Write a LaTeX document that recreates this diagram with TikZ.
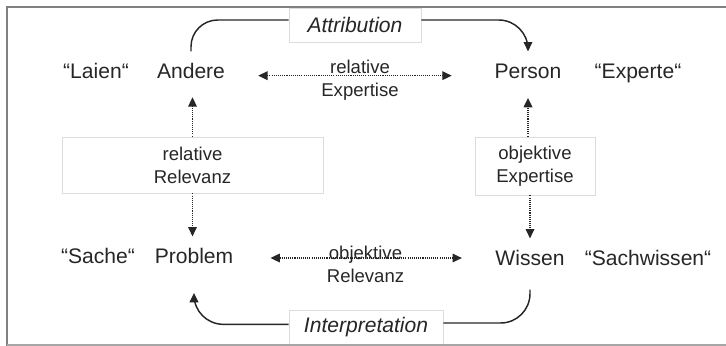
\documentclass[tikz,border=0pt]{standalone}
\usepackage{fontspec}
\setmainfont{Liberation Sans}
\usetikzlibrary{arrows.meta}

\definecolor{framegray}{HTML}{808080}
\definecolor{linegray}{HTML}{A6A6A6}
\definecolor{boxgray}{HTML}{DCDCDC}
\definecolor{ink}{HTML}{262626}

\tikzset{
	word/.style = {font = \fontsize{15.8}{19}\selectfont, text = ink, inner sep = 0pt,
		text height = 11.5pt, text depth = 3.5pt, minimum height = 32pt},
	lab/.style = {font = \fontsize{13.9}{17.2}\selectfont, text = ink, align = center, inner sep = 0pt},
	labbox/.style = {lab, draw = boxgray, fill = white, line width = 0.6pt},
	titlebox/.style = {draw = boxgray, fill = white, line width = 0.6pt, text = ink,
		font = \fontsize{15.8}{19}\selectfont\itshape, minimum width = 99pt, minimum height = 25.5pt},
	dots/.style = {ink, line width = 0.9pt, dash pattern = on 0.8pt off 0.8pt},
	flow/.style = {ink, line width = 1.1pt}
}

\begin{document}
\begin{tikzpicture}[x = 0.75pt, y = -0.75pt, >={Triangle[length = 7pt, width = 6.5pt]}]
	\useasboundingbox (0,0) rectangle (726,346);
	
	\node[word] (laien) at (96, 73) {“Laien“};
	\node[word] (andere) at (191, 73) {Andere};
	\node[word] (person) at (528, 73) {Person};
	\node[word] (experte) at (638, 73) {“Experte“};
	
	\node[word] (sache) at (98, 258) {“Sache“};
	\node[word] (problem) at (194, 258) {Problem};
	\node[word] (wissen) at (530, 260) {Wissen};
	\node[word] (sachwissen) at (648, 260) {“Sachwissen“};
	
	\node[labbox, minimum width = 195.75pt, minimum height = 42pt] (rel) at (192.5, 165) {relative\\Relevanz};
	\node[labbox, minimum width = 90pt, minimum height = 43.5pt] (obj) at (535, 166) {objektive\\Expertise};
	
	\node[titlebox] (attr) at (355, 25) {Attribution};
	\node[titlebox, minimum width = 115.5pt] (interp) at (366, 327) {Interpretation};
	
	% dotted links
	\draw[dots, <->, shorten < = 24.75pt, shorten > = 32pt] ([yshift = -2pt]andere.east) -- ([yshift = -2pt]person.west);
	\node[lab] (relexp) at (360, 80.5) {relative\\Expertise};
	\draw[dots, <->, shorten < = 27.75pt, shorten > = 25pt] (problem.east) -- (problem.east -| wissen.west);
	\node[lab] (objrel) at (365.5, 264) {objektive\\Relevanz};
	
	\draw[dots, ->, shorten > = 2pt] (rel.north) -- (rel.north |- andere.south);
	\draw[dots, ->] (rel.south) -- (rel.south |- problem.north);
	\draw[dots, ->, shorten > = 2.5pt] (person.south |- obj.north) -- (person.south);
	\draw[dots, ->] (wissen.north |- obj.south) -- (wissen.north);
	
	% solid loops
	\draw[flow, rounded corners = 20pt] (andere.north) |- ([yshift = 3.75pt]attr.west);
	\draw[flow, ->, rounded corners = 22pt] ([yshift = 3.75pt]attr.east) -| (person.north);
	\draw[flow, rounded corners = 22pt, shorten < = 6pt] (wissen.south) |- ([yshift = 3pt]interp.east);
	\draw[flow, ->, rounded corners = 22pt, shorten > = 10pt] ([yshift = 2pt]interp.west) -| (problem.south);
	
	% frame
	\draw[framegray, line width = 1.5pt] (7,346) -- (7,7) -- (726,7);
	\draw[linegray, line width = 1.1pt] (7,345) -- (726,345);
\end{tikzpicture}
\end{document}
